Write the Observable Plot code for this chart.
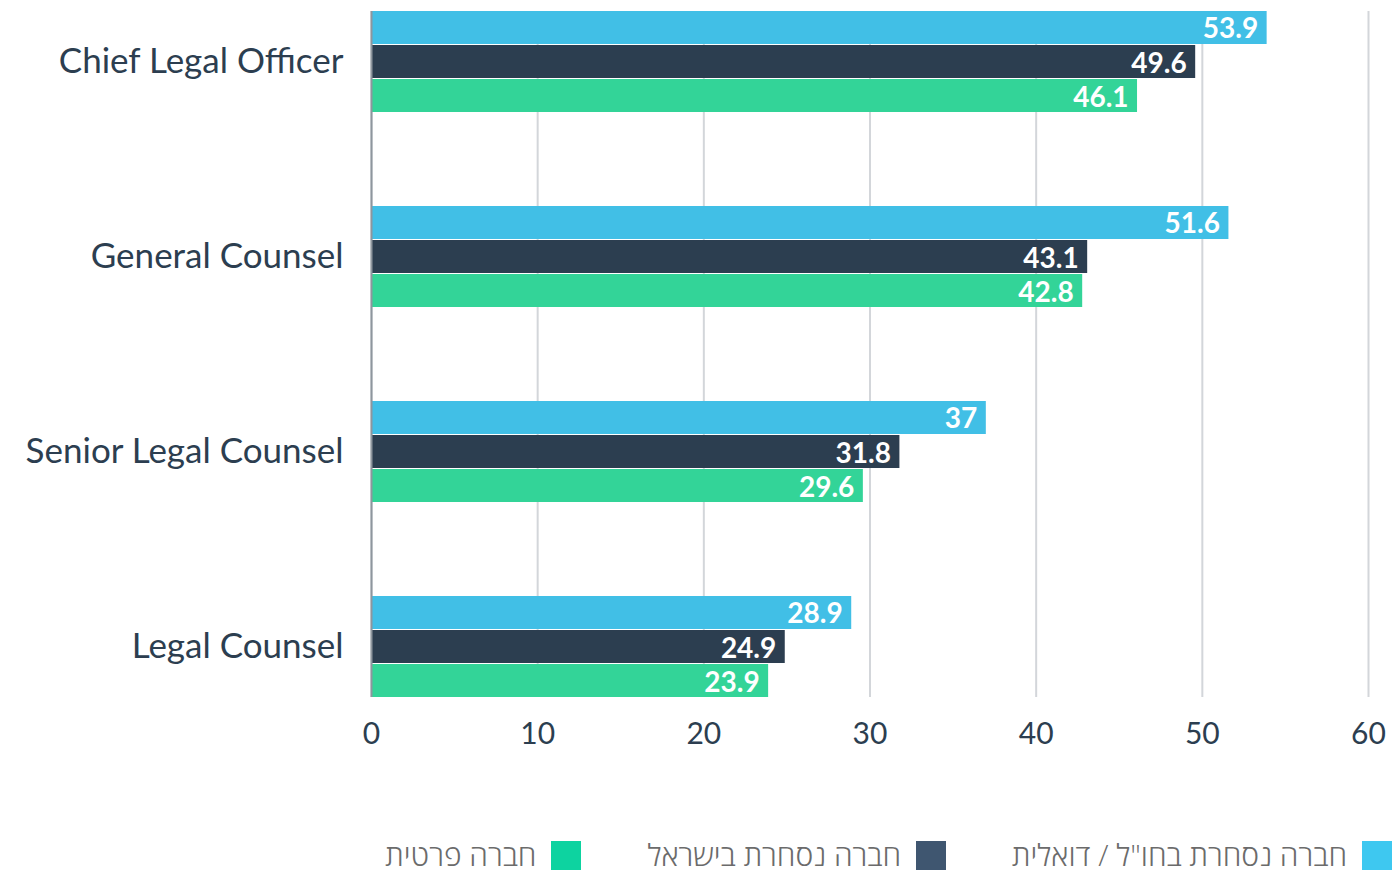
<!DOCTYPE html>
<html>
<head>
<meta charset="utf-8">
<script src="https://cdn.jsdelivr.net/npm/d3@7"></script>
<script src="https://cdn.jsdelivr.net/npm/@observablehq/plot@0.6"></script>
<style>
  html, body { margin: 0; padding: 0; background: #fff; }
  #chart svg { display: block; }
  .legend { display: flex; direction: rtl; justify-content: flex-start; align-items: center;
            padding: 40px 2px 0 0; height: 30px; line-height: 30px;
            font-family: "Open Sans", "Liberation Sans", "DejaVu Sans", sans-serif;
            font-size: 30px; color: #6b6b6b; font-weight: 300; }
  .legend .item { display: flex; align-items: center; margin-left: 66px; }
  .legend .sw { width: 30px; height: 30px; margin-left: 15px; flex: none; position: relative; top: 1px; }
</style>
</head>
<body>
<div id="chart"></div>
<div class="legend" id="legend"></div>
<script>
const roles = ["Chief Legal Officer", "General Counsel", "Senior Legal Counsel", "Legal Counsel"];
const foreignListed = [53.9, 51.6, 37, 28.9];
const israelListed = [49.6, 43.1, 31.8, 24.9];
const privateCo = [46.1, 42.8, 29.6, 23.9];
const seriesNames = ["חברה נסחרת בחו\"ל / דואלית", "חברה נסחרת בישראל", "חברה פרטית"];
const barColors = ["#41bfe6", "#2c3e50", "#33d498"];
const legendColors = ["#3ec8f0", "#3f5670", "#0dd3a0"];
const xTicks = [0, 10, 20, 30, 40, 50, 60];

const seriesValues = [foreignListed, israelListed, privateCo];
const tables = seriesValues.map((vals, s) => roles.map((r, i) => ({role: r, value: vals[i], series: seriesNames[s]})));

const insets = [
  {insetTop: 0, insetBottom: 68},
  {insetTop: 34, insetBottom: 34},
  {insetTop: 68, insetBottom: 0}
];
const labelDy = [-33, 2, 36];

const marks = [
  Plot.ruleX(xTicks, {stroke: "#d3d6da", strokeWidth: 2}),
  ...tables.map((t, s) => Plot.barX(t, {x: "value", y: "role", fill: barColors[s], ...insets[s]})),
  Plot.ruleX([0], {stroke: "#8e969e", strokeWidth: 2}),
  ...tables.map((t, s) => Plot.text(t, {x: "value", y: "role", text: d => String(d.value), dy: labelDy[s], dx: -9,
      textAnchor: "end", fill: "#fff", fontWeight: "bold", fontSize: 28, lineAnchor: "middle"})),
  Plot.axisY({tickSize: 0, tickPadding: 28, fontSize: 35, fill: "#2c3e50"}),
  Plot.axisX({ticks: xTicks, tickSize: 0, tickPadding: 25, fontSize: 30, fill: "#2c3e50", label: null})
];

const chart = Plot.plot({
  width: 1394,
  height: 800,
  marginTop: 11,
  marginBottom: 103,
  marginLeft: 371,
  marginRight: 26,
  style: {fontFamily: "Lato, 'Open Sans', sans-serif", color: "#2c3e50", background: "#fff"},
  x: {domain: [0, 60], axis: null},
  y: {domain: roles, paddingInner: 0.483, paddingOuter: 0, axis: null, label: null},
  marks
});
document.getElementById("chart").appendChild(chart);

const legend = document.getElementById("legend");
seriesNames.forEach((name, i) => {
  const item = document.createElement("div");
  item.className = "item";
  const sw = document.createElement("div");
  sw.className = "sw";
  sw.style.background = legendColors[i];
  const label = document.createElement("span");
  label.textContent = name;
  item.appendChild(sw);
  item.appendChild(label);
  legend.appendChild(item);
});
</script>
</body>
</html>
